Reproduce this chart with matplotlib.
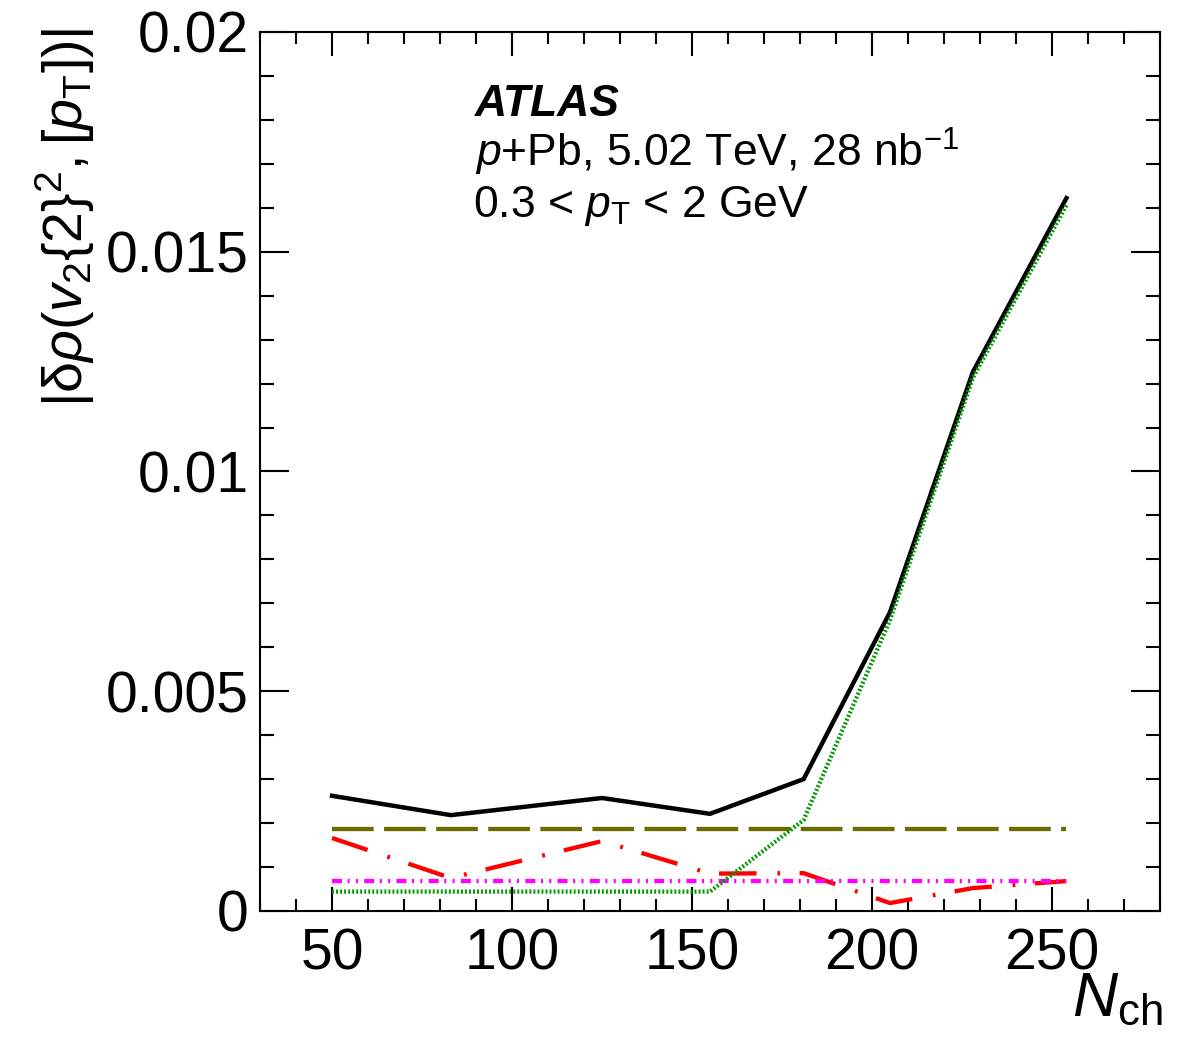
import matplotlib
matplotlib.use('Agg')
import matplotlib.pyplot as plt
from matplotlib.ticker import MultipleLocator, FuncFormatter

plt.rcParams['font.family'] = ['Liberation Sans', 'DejaVu Sans']
plt.rcParams['mathtext.fontset'] = 'custom'
plt.rcParams['mathtext.rm'] = 'Liberation Sans'
plt.rcParams['mathtext.it'] = 'Liberation Sans:italic'
plt.rcParams['mathtext.bf'] = 'Liberation Sans:bold'
plt.rcParams['lines.scale_dashes'] = False

# data
nch = [50, 83, 125, 155, 181, 205, 228, 254]
total = [0.00262, 0.00218, 0.00257, 0.00221, 0.00300, 0.00680, 0.01226, 0.01622]
green_dotted = [0.00044, 0.00044, 0.00044, 0.00044, 0.00207, 0.00662, 0.01213, 0.01606]
olive_dashed = [0.00187] * 8
red_dashdot = [0.00166, 0.00075, 0.00159, 0.00085, 0.00086, 0.00018, 0.00052, 0.00068]
magenta_dashdotdot = [0.00069] * 8

fig = plt.figure(figsize=(11.82, 10.59), dpi=100)
ax = fig.add_axes([0.22, 0.1398, 0.7614, 0.83])

ax.plot(nch, total, '-', color='black', lw=3.2, solid_joinstyle='miter')
ax.plot(nch, olive_dashed, color='#6b6b00', lw=3.1, dashes=(30, 7.5))
ax.plot(nch, red_dashdot, color='#ff0000', lw=3.1, dashes=(27, 15, 2, 14))
ax.plot(nch, magenta_dashdotdot, color='#ff00ff', lw=3.1,
        dashes=(7.2, 4, 1.5, 4.5, 1.5, 4.5))
ax.plot(nch, green_dotted, color='#009900', lw=3.1, dashes=(1.4, 1.5))

ax.set_xlim(30, 280)
ax.set_ylim(0, 0.02)
ax.xaxis.set_major_locator(MultipleLocator(50))
ax.xaxis.set_minor_locator(MultipleLocator(10))
ax.yaxis.set_major_locator(MultipleLocator(0.005))
ax.yaxis.set_minor_locator(MultipleLocator(0.001))
ax.yaxis.set_major_formatter(FuncFormatter(lambda v, p: '%g' % round(v, 4)))

for s in ax.spines.values():
    s.set_linewidth(1.5)
ax.tick_params(which='both', direction='in', top=True, right=True, width=1.5)
ax.tick_params(axis='x', which='major', length=17, pad=12, labelsize=41)
ax.tick_params(axis='x', which='minor', length=8.5)
ax.tick_params(axis='y', which='major', length=21, pad=8, labelsize=41)
ax.tick_params(axis='y', which='minor', length=10)

fig.text(65 / 1182, 1 - 28 / 1059,
         r'$|\mathrm{\delta}\rho(v_{2}\{2\}^{2},[p_{\mathrm{T}}])|$',
         rotation=90, ha='center', va='top', fontsize=40)
fig.text(1163 / 1182, 1 - 1016 / 1059, r'$N_{\mathrm{ch}}$',
         ha='right', va='baseline', fontsize=45)

fig.text(475 / 1182, 1 - 116 / 1059, 'ATLAS', fontsize=32,
         fontweight='bold', fontstyle='italic', va='baseline')
fig.text(475 / 1182, 1 - 167 / 1059, r'$p$+Pb, 5.02 TeV, 28 nb$^{-1}$',
         fontsize=32, va='baseline')
fig.text(473 / 1182, 1 - 217 / 1059, r'0.3 < $p_{\mathrm{T}}$ < 2 GeV',
         fontsize=32, va='baseline')

fig.savefig('out.png', dpi=100)
